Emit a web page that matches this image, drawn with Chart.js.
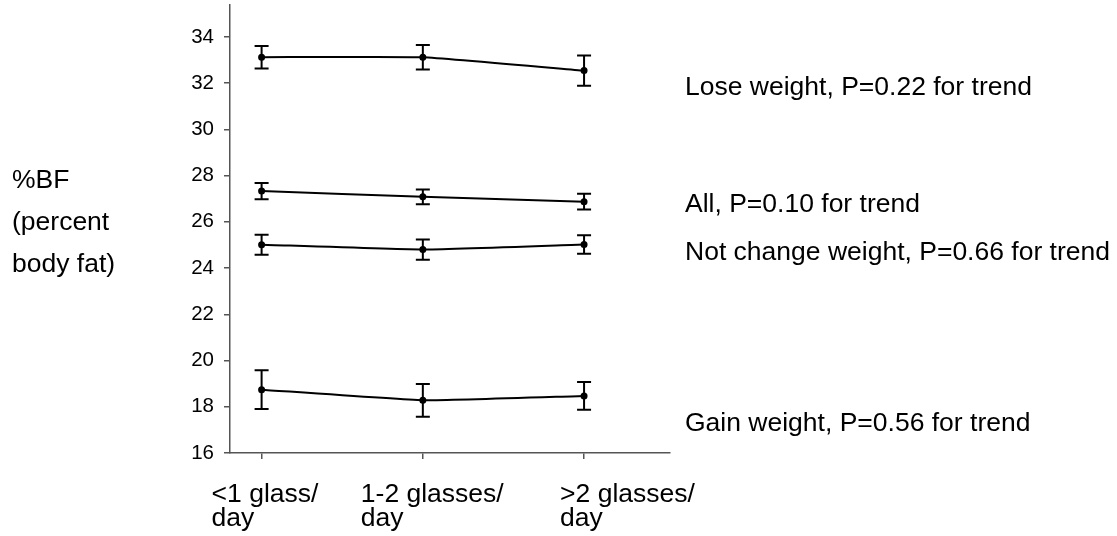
<!DOCTYPE html>
<html>
<head>
<meta charset="utf-8">
<script src="https://cdn.jsdelivr.net/npm/chart.js@4/dist/chart.umd.min.js"></script>
<style>
  html, body { margin: 0; padding: 0; background: #fff; }
  #wrap { width: 1117px; height: 536px; position: relative; }
</style>
</head>
<body>
<div id="wrap"><canvas id="bfChart"></canvas></div>
<script>
// milk intake groups (x positions 1..3)
const categories = [['<1 glass/', 'day'], ['1-2 glasses/', 'day'], ['>2 glasses/', 'day']];
const yTicks = [16, 18, 20, 22, 24, 26, 28, 30, 32, 34];

// mean %BF and standard error per group
const loseMean = [33.12, 33.12, 32.54];
const loseErr = [0.49, 0.53, 0.65];
const allMean = [27.33, 27.08, 26.87];
const allErr = [0.35, 0.32, 0.34];
const sameMean = [25.01, 24.80, 25.02];
const sameErr = [0.43, 0.44, 0.40];
const gainMean = [18.74, 18.28, 18.47];
const gainErr = [0.84, 0.71, 0.60];

const seriesNames = ['Lose weight, P=0.22 for trend', 'All, P=0.10 for trend',
  'Not change weight, P=0.66 for trend', 'Gain weight, P=0.56 for trend'];
// value at which each series name sits on the right
const nameAt = [31.8, 26.72, 24.68, 17.25];

const FONT = 'Liberation Sans, Arial, sans-serif';

function toPoints(means) {
  return means.map((v, i) => ({ x: i + 1, y: v }));
}

function makeSet(label, means, errs) {
  return {
    label: label,
    data: toPoints(means),
    errors: errs,
    borderColor: '#000',
    backgroundColor: '#000',
    borderWidth: 2,
    pointRadius: 2.5,
    pointHoverRadius: 2.5,
    tension: 0.12,
    fill: false
  };
}

// vertical error bars with caps
const errorBars = {
  id: 'errorBars',
  afterDatasetsDraw(chart) {
    const { ctx, scales: { x, y } } = chart;
    ctx.save();
    ctx.strokeStyle = '#000';
    ctx.lineWidth = 2;
    chart.data.datasets.forEach(ds => {
      ds.data.forEach((p, i) => {
        const px = x.getPixelForValue(p.x);
        const top = y.getPixelForValue(p.y + ds.errors[i]);
        const bot = y.getPixelForValue(p.y - ds.errors[i]);
        ctx.beginPath();
        ctx.moveTo(px, top); ctx.lineTo(px, bot);
        ctx.moveTo(px - 7, top); ctx.lineTo(px + 7, top);
        ctx.moveTo(px - 7, bot); ctx.lineTo(px + 7, bot);
        ctx.stroke();
      });
    });
    ctx.restore();
  }
};

// category labels, series names and y title
const textLayer = {
  id: 'textLayer',
  afterDraw(chart) {
    const { ctx, scales: { x, y } } = chart;
    ctx.save();
    ctx.fillStyle = '#000';
    ctx.font = '26.5px ' + FONT;
    ctx.textBaseline = 'alphabetic';
    ctx.textAlign = 'left';

    const shift = [-50, -62, -24];
    categories.forEach((lines, i) => {
      const px = x.getPixelForValue(i + 1) + shift[i];
      lines.forEach((t, k) => ctx.fillText(t, px, 502 + k * 24));
    });

    seriesNames.forEach((t, i) => {
      ctx.textBaseline = 'middle';
      ctx.fillText(t, 685, y.getPixelForValue(nameAt[i]));
    });

    ctx.textBaseline = 'alphabetic';
    ['%BF', '(percent', 'body fat)'].forEach((t, k) => ctx.fillText(t, 12, 188 + k * 42));
    ctx.restore();
  }
};

new Chart(document.getElementById('bfChart'), {
  type: 'line',
  data: {
    datasets: [
      makeSet('Lose weight', loseMean, loseErr),
      makeSet('All', allMean, allErr),
      makeSet('Not change weight', sameMean, sameErr),
      makeSet('Gain weight', gainMean, gainErr)
    ]
  },
  options: {
    responsive: true,
    maintainAspectRatio: false,
    animation: false,
    layout: { padding: { left: 0, top: 4, right: 447, bottom: 0 } },
    plugins: { legend: { display: false }, tooltip: { enabled: false } },
    scales: {
      x: {
        type: 'linear',
        min: 0.804,
        max: 3.533,
        afterBuildTicks: s => { s.ticks = [1, 2, 3].map(v => ({ value: v })); },
        afterFit: s => { s.height = 83; s.paddingLeft = 0; s.paddingRight = 0; },
        ticks: { display: false },
        grid: { drawOnChartArea: false, drawTicks: true, tickLength: 6, color: '#555', lineWidth: 1.5 },
        border: { display: true, color: '#555', width: 1.5 }
      },
      y: {
        min: 16,
        max: 35.4,
        afterBuildTicks: s => { s.ticks = yTicks.map(v => ({ value: v })); },
        afterFit: s => { s.width = 230; s.paddingTop = 0; s.paddingBottom = 0; },
        ticks: { color: '#000', font: { family: FONT, size: 20.5 }, padding: 10 },
        grid: { drawOnChartArea: false, drawTicks: true, tickLength: 6, color: '#555', lineWidth: 1.5 },
        border: { display: true, color: '#555', width: 1.5 }
      }
    }
  },
  plugins: [errorBars, textLayer]
});
</script>
</body>
</html>
